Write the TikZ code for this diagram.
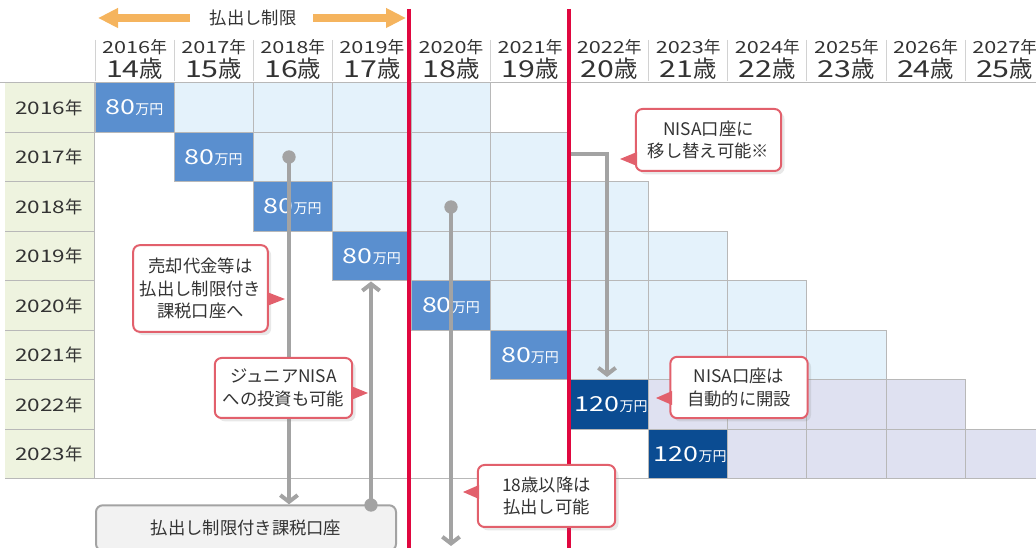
\documentclass[tikz,border=0pt]{standalone}
\usepackage{fontspec}
\setmainfont{Noto Sans CJK JP}
\newfontfamily\dg[FakeStretch=1.3]{Noto Sans CJK JP}
\usetikzlibrary{arrows.meta,shadows}
\definecolor{gridc}{HTML}{B8B8B8}
\definecolor{hdrdiv}{HTML}{D2D2D2}
\definecolor{lbl}{HTML}{EEF3DF}
\definecolor{midblue}{HTML}{5A8FCF}
\definecolor{lightblue}{HTML}{E4F2FB}
\definecolor{darkblue}{HTML}{0B4C92}
\definecolor{lav}{HTML}{DFE1F1}
\definecolor{redl}{HTML}{E0073F}
\definecolor{orangec}{HTML}{F5B45E}
\definecolor{grayc}{HTML}{A3A3A3}
\definecolor{callb}{HTML}{E2606C}
\definecolor{txt}{HTML}{333333}
\newcommand\amt[1]{{\dg\fontsize{15.5}{16}\selectfont #1}{\fontsize{10.5}{11}\selectfont 万円}}
\tikzset{
  cellsty/.style={draw=gridc, line width=0.75pt, minimum width=59.325pt, minimum height=37.125pt, inner sep=0pt, text=white},
  hyear/.style={text=txt, font=\fontsize{12.5}{13}\selectfont, inner sep=0pt},
  hage/.style={text=txt, font=\fontsize{17.5}{18}\selectfont, inner sep=0pt},
  lbltxt/.style={text=txt, font=\fontsize{13}{13}\selectfont, inner sep=0pt},
  callout/.style={draw=callb, line width=1.5pt, fill=white, rounded corners=5pt, text=txt, align=center, inner sep=0pt,
     font=\fontsize{13}{16.8}\selectfont, drop shadow={opacity=0.18, shadow xshift=2.5pt, shadow yshift=-2.5pt}},
  ptr/.style={fill=callb},
  gline/.style={draw=grayc, line width=3pt},
  garrow/.style={-{Straight Barb[length=5pt,width=13pt]}},
  dot/.style={circle, fill=grayc, minimum size=10pt, inner sep=0pt},
  redline/.style={draw=redl, line width=3pt},
  oarrow/.style={draw=orangec, line width=6pt, -{Triangle[length=15pt,width=14pt]}},
  pboxsty/.style={draw=grayc, line width=1.5pt, fill=black!5, rounded corners=5pt, text=txt, font=\fontsize{13}{15}\selectfont,
     minimum width=225pt, minimum height=34pt, inner sep=0pt}
}
\begin{document}
\begin{tikzpicture}[x=0.75pt,y=-0.75pt]
\useasboundingbox (0,0) rectangle (1036,548);
% header
\coordinate (hl0) at (0,83); \coordinate (hl1) at (1036,83);
\draw[gridc, line width=0.75pt] (hl0) -- (hl1);
\foreach \k in {0,...,11}{
  \pgfmathsetmacro\cx{134.55+79.1*\k}
  \pgfmathsetmacro\dx{95+79.1*\k}
  \pgfmathtruncatemacro\yr{2016+\k}
  \pgfmathtruncatemacro\ag{14+\k}
  \draw[hdrdiv, line width=0.75pt] (\dx,40) -- (\dx,81);
  \node[hyear] (hy\k) at (\cx,47) {{\dg\yr}年};
  \node[hage] (ha\k) at (\cx,69) {{\dg\ag}歳};
}
% top arrows
\coordinate (la1) at (190,18); \coordinate (la2) at (98,18);
\coordinate (ra1) at (313,18); \coordinate (ra2) at (406,18);
\draw[oarrow] (la1) -- (la2);
\draw[oarrow] (ra1) -- (ra2);
\node[text=txt, font=\fontsize{13}{13}\selectfont, inner sep=0pt] (limit) at (253,18) {払出し制限};
% label column
\fill[lbl] (5,83) rectangle (94,479);
\draw[gridc, line width=0.75pt] (94,83) -- (94,479);
\foreach \r in {0,...,7}{
  \pgfmathsetmacro\cy{107.75+49.5*\r}
  \pgfmathsetmacro\ly{132.5+49.5*\r}
  \pgfmathtruncatemacro\yr{2016+\r}
  \draw[gridc, line width=0.75pt] (5,\ly) -- (94,\ly);
  \node[lbltxt] (ly\r) at (49,\cy) {{\dg\yr}年};
}
% cells
\foreach \r in {0,...,7}{
  \pgfmathsetmacro\cy{107.75+49.5*\r}
  \pgfmathsetmacro\cx{134.55+79.1*\r}
  \ifnum\r<6
    \foreach \j in {1,...,4}{
      \pgfmathtruncatemacro\kk{\r+\j}
      \pgfmathsetmacro\ccx{134.55+79.1*\kk}
      \node[cellsty, fill=lightblue] (c\r-\kk) at (\ccx,\cy) {};
    }
    \node[cellsty, fill=midblue] (c\r-\r) at (\cx,\cy) {\amt{80}};
  \else
    \foreach \j in {1,...,4}{
      \pgfmathtruncatemacro\kk{\r+\j}
      \pgfmathsetmacro\ccx{134.55+79.1*\kk}
      \node[cellsty, fill=lav] (c\r-\kk) at (\ccx,\cy) {};
    }
    \node[cellsty, fill=darkblue] (c\r-\r) at (\cx,\cy) {\hspace{3pt}\amt{120}};
  \fi
}
\draw[gridc, line width=0.75pt] (5,479) -- (1036,479);
% taxable account box
\node[pboxsty] (pbox) at (246,528) {払出し制限付き課税口座};
% gray connectors
\node[dot] (d1) at (289,157) {};
\draw[gline, garrow] (d1.center) -- (d1 |- pbox.north);
\node[dot] (d2) at (371,505) {};
\draw[gline, garrow] (d2.center) -- (c3-3.south -| d2);
\node[dot] (d3) at (451,207) {};
\coordinate (e3) at (451,546);
\draw[gline, garrow] (d3.center) -- (e3);
\coordinate (s4) at (571,154);
\coordinate (t4) at (607,377);
\draw[gline, garrow] (s4) -| (t4);
% red lines
\coordinate (r1t) at (409,9); \coordinate (r1b) at (409,548);
\coordinate (r2t) at (569,9); \coordinate (r2b) at (569,548);
\draw[redline] (r1t) -- (r1b);
\draw[redline] (r2t) -- (r2b);
% callouts
\node[callout, minimum width=101pt, minimum height=65pt] (ca) at (200.5,288.5) {売却代金等は\\払出し制限付き\\課税口座へ};
\fill[ptr] (267,292) -- (285,299) -- (267,306) -- cycle;
\node[callout, minimum width=103pt, minimum height=45pt] (cb) at (283.5,388) {ジュニアNISA\\への投資も可能};
\fill[ptr] (351,386) -- (368,393) -- (351,400) -- cycle;
\node[callout, minimum width=109pt, minimum height=46.5pt] (cc) at (708.5,140) {NISA口座に\\移し替え可能※};
\fill[ptr] (637,152) -- (620,159) -- (637,166) -- cycle;
\node[callout, minimum width=103pt, minimum height=46pt] (cd) at (739,387.5) {NISA口座は\\自動的に開設};
\fill[ptr] (672,391) -- (656,398) -- (672,405) -- cycle;
\node[callout, minimum width=103pt, minimum height=46.5pt] (ce) at (546.5,496) {18歳以降は\\払出し可能};
\fill[ptr] (479,485) -- (463,492) -- (479,499) -- cycle;
\end{tikzpicture}
\end{document}
